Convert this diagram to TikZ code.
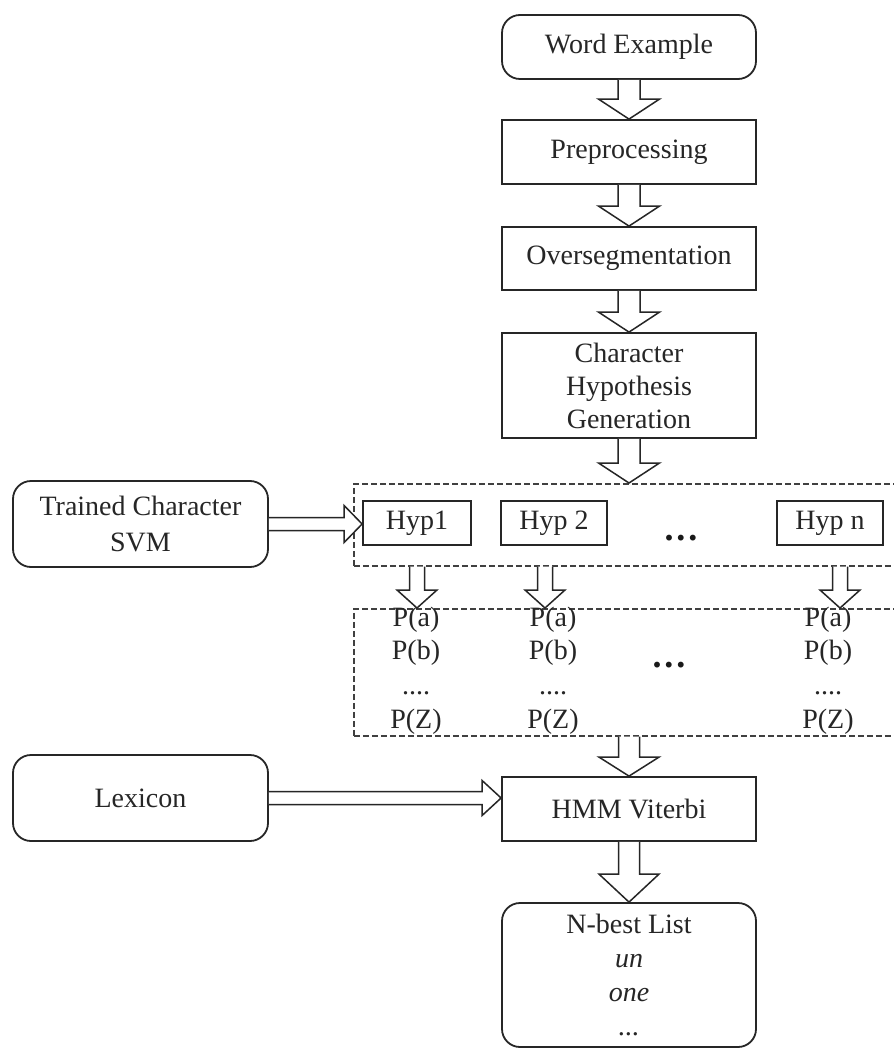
\documentclass[tikz,border=0pt]{standalone}
\usepackage{fontspec}
\setmainfont{Liberation Serif}
\usetikzlibrary{calc}
\tikzset{
  txt/.style={inner sep=0pt, align=center, text=black!85, font=\fontsize{28}{33}\selectfont},
  box/.style={txt, draw=black!85, line width=1.8pt},
  rbox/.style={box, rounded corners=18pt},
  dbox/.style={draw=black!75, line width=1.5pt, dash pattern=on 6pt off 3pt, inner sep=0pt},
  blk/.style={draw=black!85, line width=1.5pt, fill=white, line join=miter},
  bigdots/.style={inner sep=0pt, text=black!90, font=\fontsize{36}{36}\selectfont\bfseries},
}
\newcommand\vblk[5]{\draw[blk] let \p1=(#1), \p2=(#2) in
  (\x1-#3pt,\y1) -- (\x1-#3pt,\y2+#5pt) -- (\x1-#4pt,\y2+#5pt) -- (\x1,\y2)
  -- (\x1+#4pt,\y2+#5pt) -- (\x1+#3pt,\y2+#5pt) -- (\x1+#3pt,\y1);}
\newcommand\hblk[5]{\draw[blk] let \p1=(#1), \p2=(#2) in
  (\x1,\y1+#3pt) -- (\x2-#5pt,\y1+#3pt) -- (\x2-#5pt,\y1+#4pt) -- (\x2,\y1)
  -- (\x2-#5pt,\y1-#4pt) -- (\x2-#5pt,\y1-#3pt) -- (\x1,\y1-#3pt);}
\begin{document}
\begin{tikzpicture}[x=1pt,y=-1pt]
\useasboundingbox[fill=white] (0,0) rectangle (893,1048);

% main column
\node[rbox, minimum width=254, minimum height=64] (word) at (629,47) {Word Example};
\node[box, minimum width=254, minimum height=64] (prep) at (629,152) {Preprocessing};
\node[box, minimum width=254, minimum height=63] (seg) at (629,258.5) {Oversegmentation};
\node[box, minimum width=254, minimum height=105] (chg) at (629,385.5) {Character\\Hypothesis\\Generation};

% dashed groups
\node[dbox, minimum width=560, minimum height=82, anchor=north west] (d1) at (353,483) {};
\node[dbox, minimum width=560, minimum height=127, anchor=north west] (d2) at (353,608) {};

% hypotheses
\node[box, minimum width=108, minimum height=44] (hyp1) at (417,523) {Hyp1};
\node[box, minimum width=106, minimum height=44] (hyp2) at (554,523) {Hyp 2};
\node[box, minimum width=106, minimum height=44] (hypn) at (830,523) {Hyp n};
\node[bigdots] (dots1) at (681,538) {.\kern3pt.\kern3pt.};

% probability columns
\foreach \c/\x in {1/416, 2/553, 3/828}{
  \node[txt] (pa\c) at (\x,620) {P(a)};
  \node[txt] (pb\c) at (\x,653) {P(b)};
  \node[txt] (pd\c) at (\x,693) {....};
  \node[txt] (pz\c) at (\x,722) {P(Z)};
}
\node[bigdots] (dots2) at (669,665) {.\kern3pt.\kern3pt.};

% side inputs
\node[rbox, minimum width=255, minimum height=86, font=\fontsize{28}{36}\selectfont] (trained) at (140.5,524) {Trained Character\\SVM};
\node[rbox, minimum width=255, minimum height=86] (lex) at (140.5,798) {Lexicon};

% lower column
\node[box, minimum width=254, minimum height=64] (hmm) at (629,809) {HMM Viterbi};
\node[rbox, minimum width=254, minimum height=144, font=\fontsize{28}{34}\selectfont] (nbest) at (629,975)
  {N-best List\\\textit{un}\\\textit{one}\\\textit{...}};

% block arrows, main column
\vblk{word.south}{prep.north}{11}{30.5}{20}
\vblk{prep.south}{seg.north}{11}{30.5}{20}
\vblk{seg.south}{chg.north}{11}{30.5}{20}
\vblk{chg.south}{chg.south |- d1.north}{11}{30.5}{20}
\vblk{hmm.north |- d2.south}{hmm.north}{10.5}{30}{19}
\vblk{hmm.south}{nbest.north}{10.5}{30}{28}

% block arrows between groups
\path (hyp1.south) coordinate (c1);
\path (hyp2.south) ++(-9,0) coordinate (c2);
\path (hypn.south) ++(10,0) coordinate (c3);
\foreach \c in {c1,c2,c3}{
  \vblk{\c |- d1.south}{\c |- d2.north}{7.5}{20}{18}
}

% side arrows
\hblk{trained.east}{hyp1.west}{6.5}{18.5}{18}
\hblk{lex.east}{lex.east -| hmm.west}{6.5}{17.5}{19}
\end{tikzpicture}
\end{document}
